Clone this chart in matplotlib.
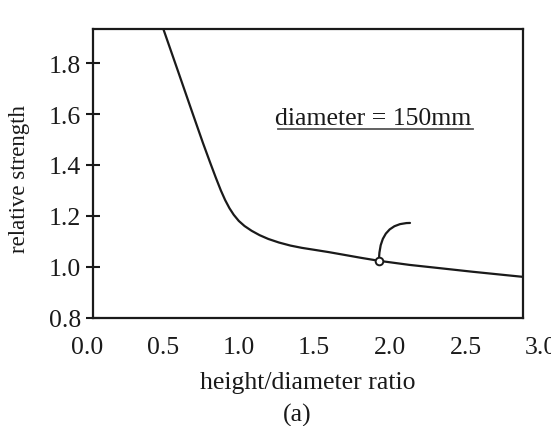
import matplotlib
matplotlib.use("Agg")
import matplotlib.pyplot as plt
import matplotlib.transforms as mtransforms

# curve (x in axis-box units 0..3)
ratio = [0.494, 0.600, 0.700, 0.770, 0.820, 0.860, 0.895, 0.925, 0.955, 0.985,
         1.020, 1.060, 1.110, 1.165, 1.226, 1.300, 1.380, 1.460, 1.550, 1.650,
         1.750, 1.870, 1.998, 2.210, 2.423, 2.650, 2.877, 3.0]
strength = [1.935, 1.763, 1.600, 1.487, 1.410, 1.350, 1.300, 1.262, 1.230, 1.204,
            1.180, 1.160, 1.141, 1.124, 1.109, 1.095, 1.083, 1.074, 1.066, 1.057,
            1.047, 1.035, 1.023, 1.007, 0.994, 0.980, 0.967, 0.960]

point = (1.998, 1.023)
hook_end = (2.214, 1.172)

xticks = [0.0, 0.5, 1.0, 1.5, 2.0, 2.5, 3.0]
yticks = [0.8, 1.0, 1.2, 1.4, 1.6, 1.8]

plt.rcParams['font.family'] = ['Liberation Serif', 'DejaVu Serif']
FS = 18.5
INK = '#1a1a1a'

fig = plt.figure(figsize=(5.51, 4.27), dpi=100)
ax = fig.add_axes([92.5/551, 1-318.5/427, (522.7-92.5)/551, (318.5-30)/427])

ax.plot(ratio, strength, color=INK, lw=1.6, solid_joinstyle='round')
ax.plot([point[0]], [point[1]], 'o', mfc='white', mec=INK, ms=5.5, mew=1.4, zorder=4)
ax.annotate('', xy=point, xytext=hook_end,
            arrowprops=dict(arrowstyle='-', color=INK, lw=1.6,
                            shrinkA=0, shrinkB=3,
                            connectionstyle='angle3,angleA=0,angleB=90'))

ax.text(1.96, 1.585, 'diameter = 150mm', fontsize=FS, ha='center', va='center',
        color=INK)
# underline
ax.plot([1.295, 2.655], [1.543, 1.543], color='#555555', lw=1.3)

ax.set_xlim(0, 3.0)
ax.set_ylim(0.8, 1.935)
ax.set_xticks(xticks)
ax.set_xticklabels(['%.1f' % v for v in xticks])
ax.set_yticks(yticks)
ax.set_yticklabels(['%.1f' % v for v in yticks])
ax.tick_params(axis='x', length=0, pad=13, labelsize=FS, labelcolor=INK)
ax.tick_params(axis='y', direction='inout', length=10, width=1.5, pad=3,
               labelsize=FS, labelcolor=INK, color=INK)
for s in ax.spines.values():
    s.set_linewidth(1.6)
    s.set_color(INK)

# the printed x labels sit on a slightly wider scale than the box
for v, lab in zip(xticks, ax.get_xticklabels()):
    dx = -5.5 + 8.0 * v
    lab.set_transform(lab.get_transform() +
                      mtransforms.ScaledTranslation(dx / 100, 0, fig.dpi_scale_trans))

ax.set_xlabel('height/diameter ratio', fontsize=FS, labelpad=10, color=INK)
ax.set_ylabel('relative strength', fontsize=16.5, color=INK)
ax.yaxis.set_label_coords(-0.145, 0.485)
fig.text(297/551, 1-415/427, '(a)', fontsize=FS, ha='center', va='center',
         color=INK)

fig.savefig('out.png', dpi=100)
